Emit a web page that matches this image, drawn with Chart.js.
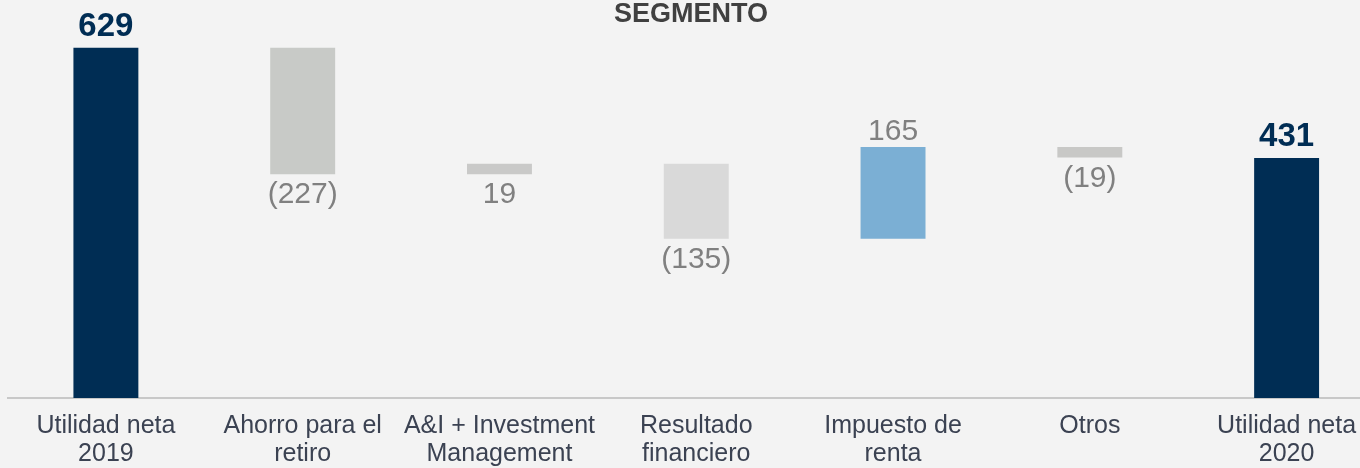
<!DOCTYPE html>
<html lang="es">
<head>
    <meta charset="UTF-8">
    <title>Utilidad neta por segmento</title>
    <script src="https://cdn.jsdelivr.net/npm/chart.js@4.4.1/dist/chart.umd.min.js"></script>
    <style>
        html, body { margin: 0; padding: 0; background: #f3f3f3; overflow: hidden; }
        .chart-wrap { position: relative; width: 1385px; height: 468px; }
    </style>
</head>
<body>
    <div class="chart-wrap"><canvas id="waterfall"></canvas></div>
    <script>
        // datos
        const categories = [
            ['Utilidad neta', '2019'],
            ['Ahorro para el', 'retiro'],
            ['A&I + Investment', 'Management'],
            ['Resultado', 'financiero'],
            ['Impuesto de', 'renta'],
            ['Otros'],
            ['Utilidad neta', '2020']
        ];
        const startTotal = 629;
        const steps = [-227, 19, -135, 165, -19];
        const endTotal = 431;
        // dónde va la etiqueta de cada paso
        const labelSide = ['below', 'below', 'below', 'above', 'below'];

        // barras flotantes
        const ranges = [[0, startTotal]];
        let run = startTotal;
        steps.forEach(s => {
            ranges.push([run, run + s]);
            run += s;
        });
        ranges.push([0, endTotal]);

        const navy = '#002d54';
        const barColors = [navy, '#c8cac7', '#c9c9c8', '#d9d9d9', '#7bafd4', '#c8c8c6', navy];
        const FONT = "'Liberation Sans', Arial, sans-serif";

        const fmt = v => v < 0 ? `(${Math.abs(v)})` : `${v}`;

        // título y etiquetas de valor
        const labelsPlugin = {
            id: 'wfLabels',
            afterDatasetsDraw(chart) {
                const ctx = chart.ctx;
                ctx.save();
                ctx.textAlign = 'center';
                ctx.textBaseline = 'middle';

                ctx.font = `bold 27px ${FONT}`;
                ctx.fillStyle = '#404040';
                ctx.fillText('SEGMENTO', 691, 15);

                const meta = chart.getDatasetMeta(0);
                meta.data.forEach((bar, i) => {
                    const top = Math.min(bar.y, bar.base);
                    const bottom = Math.max(bar.y, bar.base);
                    if (i === 0 || i === meta.data.length - 1) {
                        ctx.font = `bold 33px ${FONT}`;
                        ctx.fillStyle = navy;
                        ctx.fillText(fmt(i === 0 ? startTotal : endTotal), bar.x, top - 21);
                    } else {
                        ctx.font = `30px ${FONT}`;
                        ctx.fillStyle = '#808080';
                        const v = steps[i - 1];
                        if (labelSide[i - 1] === 'above') ctx.fillText(fmt(v), bar.x, top - 15);
                        else ctx.fillText(fmt(v), bar.x, bottom + 21);
                    }
                });
                ctx.restore();
            }
        };

        new Chart(document.getElementById('waterfall').getContext('2d'), {
            type: 'bar',
            data: {
                labels: categories,
                datasets: [{
                    data: ranges,
                    backgroundColor: barColors,
                    borderWidth: 0,
                    borderSkipped: false,
                    barPercentage: 0.33,
                    categoryPercentage: 1
                }]
            },
            options: {
                responsive: true,
                maintainAspectRatio: false,
                animation: false,
                layout: { padding: { left: 7.5, right: 0, top: 0, bottom: 0 } },
                plugins: {
                    legend: { display: false },
                    title: { display: false },
                    tooltip: { enabled: false }
                },
                scales: {
                    x: {
                        grid: { display: false, drawTicks: false },
                        border: { display: true, color: '#c8c8c8', width: 2 },
                        ticks: {
                            color: '#3b4252',
                            font: { family: FONT, size: 25, lineHeight: 1.12 },
                            padding: 14,
                            maxRotation: 0,
                            autoSkip: false
                        },
                        afterFit(scale) { scale.height = 70; }
                    },
                    y: {
                        display: false,
                        min: 0,
                        max: 715
                    }
                }
            },
            plugins: [labelsPlugin]
        });
    </script>
</body>
</html>
